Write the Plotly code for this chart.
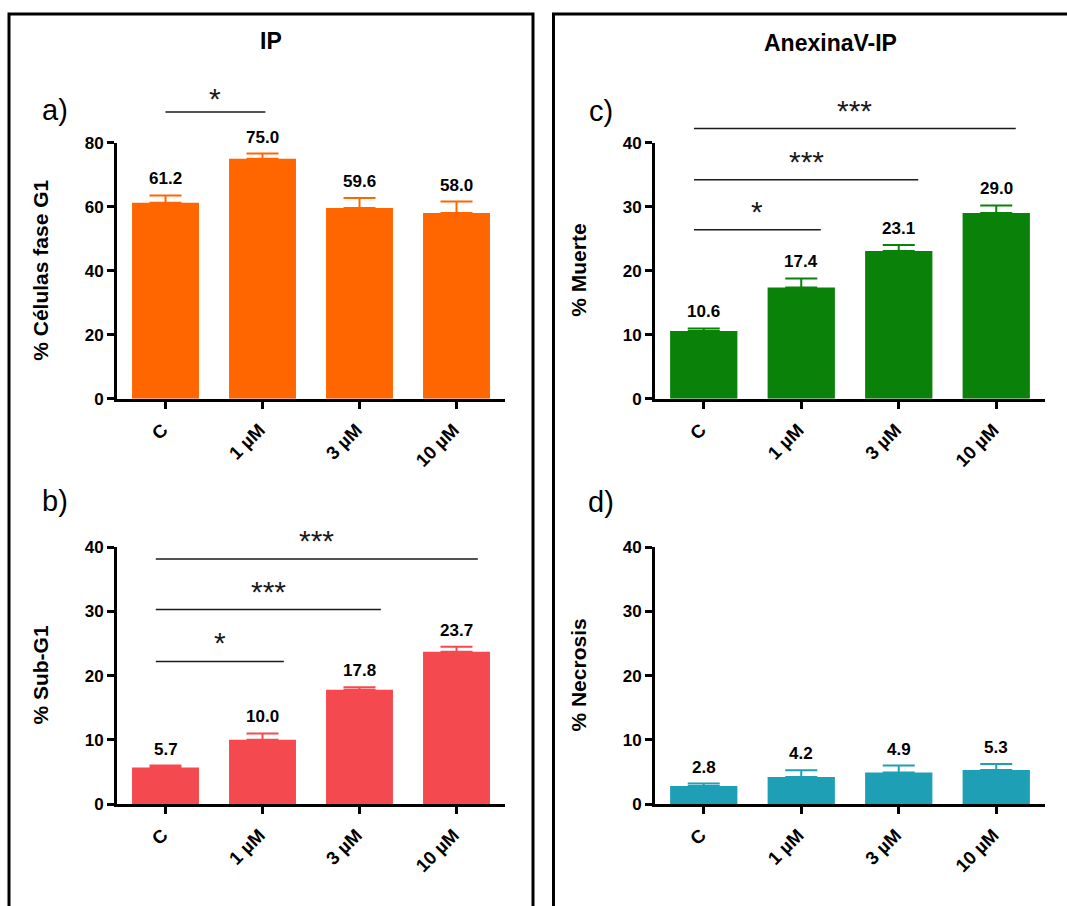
import plotly.graph_objects as go

W, H = 1067, 906

categories = ["C", "1 µM", "3 µM", "10 µM"]

# a) IP: % cells in G1 phase
g1_values = [61.2, 75.0, 59.6, 58.0]
g1_errors = [2.3, 1.6, 3.1, 3.6]

# b) IP: % Sub-G1
subg1_values = [5.7, 10.0, 17.8, 23.7]
subg1_errors = [0.3, 1.0, 0.4, 0.8]

# c) AnexinaV-IP: % death
death_values = [10.6, 17.4, 23.1, 29.0]
death_errors = [0.4, 1.4, 0.9, 1.2]

# d) AnexinaV-IP: % necrosis
necrosis_values = [2.8, 4.2, 4.9, 5.3]
necrosis_errors = [0.4, 1.05, 1.1, 0.95]

# significance brackets: (from index, to index, label)
g1_signif = [(0, 1, "*")]
subg1_signif = [(0, 1, "*"), (0, 2, "***"), (0, 3, "***")]
death_signif = [(0, 1, "*"), (0, 2, "***"), (0, 3, "***")]

FONT = "Liberation Sans, Arial, Helvetica, sans-serif"


def px_x(p):
    return p / W


def px_y(p):
    return 1 - p / H


panels = [
    dict(ax="", values=g1_values, errors=g1_errors, color="#FF6600", ymax=80, dtick=20,
         ytitle="% Células fase G1", xd=(117, 505), yd=(136.5, 398.2),
         signif=g1_signif, levels=[89.6], span=(0.0, 0.03), star_shift=-5),
    dict(ax="2", values=subg1_values, errors=subg1_errors, color="#F44A4F", ymax=40, dtick=10,
         ytitle="% Sub-G1", xd=(117, 505), yd=(549.6, 812.1),
         signif=subg1_signif, levels=[22.2, 30.27, 38.15], span=(-0.1, 0.22), star_shift=0),
    dict(ax="3", values=death_values, errors=death_errors, color="#0A820A", ymax=40, dtick=10,
         ytitle="% Muerte", xd=(655, 1045), yd=(136.5, 398.2),
         signif=death_signif, levels=[26.4, 34.2, 42.2], span=(-0.1, 0.2), star_shift=0),
    dict(ax="4", values=necrosis_values, errors=necrosis_errors, color="#1E9FB6", ymax=40, dtick=10,
         ytitle="% Necrosis", xd=(655, 1045), yd=(549.6, 812.1),
         signif=[], levels=[], span=(0, 0), star_shift=0),
]

fig = go.Figure()
annotations = []
shapes = []

for p in panels:
    xa, ya = "x" + p["ax"], "y" + p["ax"]
    fig.add_trace(go.Bar(
        x=categories, y=p["values"], xaxis=xa, yaxis=ya,
        width=0.69, marker=dict(color=p["color"], line=dict(width=0)),
        error_y=dict(type="data", symmetric=False, array=p["errors"],
                     arrayminus=[0] * len(p["errors"]),
                     color=p["color"], thickness=2, width=16),
        showlegend=False, hoverinfo="skip",
    ))

    axis_common = dict(showline=True, linewidth=3, linecolor="black",
                       ticks="outside", ticklen=7, tickwidth=3, tickcolor="black",
                       showgrid=False, zeroline=False)
    fig.update_layout({
        "xaxis" + p["ax"]: dict(
            domain=[px_x(p["xd"][0]), px_x(p["xd"][1])], anchor=ya,
            type="category", range=[-0.5, 3.5], tickangle=-45,
            ticklabelstandoff=3, ticklabelshift=-3,
            tickfont=dict(family=FONT, size=18.5, color="black", weight="bold"),
            **axis_common),
        "yaxis" + p["ax"]: dict(
            domain=[px_y(p["yd"][1]), px_y(p["yd"][0])], anchor=xa,
            range=[0, p["ymax"]], dtick=p["dtick"], tick0=0,
            tickfont=dict(family=FONT, size=17, color="black", weight="bold"),
            **axis_common),
    })

    # value labels above the error bars
    for i, (v, e) in enumerate(zip(p["values"], p["errors"])):
        annotations.append(dict(
            x=i, y=v + e, xref=xa, yref=ya, text=f"{v:.1f}", showarrow=False,
            yanchor="bottom", yshift=5,
            font=dict(family=FONT, size=17, color="black", weight="bold")))

    # y-axis title
    annotations.append(dict(
        x=0, y=0.5, xref=xa + " domain", yref=ya + " domain", xshift=-76,
        text=p["ytitle"], textangle=-90, showarrow=False,
        xanchor="center", yanchor="middle",
        font=dict(family=FONT, size=21, color="black", weight="bold")))

    # significance brackets (placed in axis-domain units so they may sit above the axis top)
    for (i, j, lab), lvl in zip(p["signif"], p["levels"]):
        x0, x1 = i + p["span"][0], j + p["span"][1]
        frac = lvl / p["ymax"]
        shapes.append(dict(type="line", xref=xa, yref=ya + " domain",
                           x0=x0, x1=x1, y0=frac, y1=frac,
                           line=dict(color="#1a1a1a", width=1.5)))
        annotations.append(dict(
            x=(x0 + x1) / 2, y=frac, xref=xa, yref=ya + " domain", text=lab,
            showarrow=False, yanchor="bottom", yshift=p["star_shift"],
            font=dict(family=FONT, size=30, color="#1a1a1a")))

# panel titles
annotations.append(dict(x=px_x(271), y=px_y(33), xref="paper", yref="paper", text="IP",
                        showarrow=False, xanchor="center", yanchor="middle",
                        font=dict(family=FONT, size=23, color="black", weight="bold")))
annotations.append(dict(x=px_x(830), y=px_y(35), xref="paper", yref="paper", text="AnexinaV-IP",
                        showarrow=False, xanchor="center", yanchor="middle",
                        font=dict(family=FONT, size=23, color="black", weight="bold")))

# panel letters
for lab, cx, cy in [("a)", 55, 103), ("b)", 55, 503), ("c)", 601, 104), ("d)", 601, 504)]:
    annotations.append(dict(x=px_x(cx), y=px_y(cy), xref="paper", yref="paper", text=lab,
                            showarrow=False, xanchor="center", yanchor="middle",
                            font=dict(family=FONT, size=29, color="black")))

# frames around the two groups of panels
shapes.append(dict(type="rect", xref="paper", yref="paper",
                   x0=px_x(9), x1=px_x(533), y0=-0.05, y1=px_y(5),
                   line=dict(color="black", width=3)))
shapes.append(dict(type="rect", xref="paper", yref="paper",
                   x0=px_x(553.5), x1=1.05, y0=-0.05, y1=px_y(5),
                   line=dict(color="black", width=3)))

fig.update_layout(
    width=W, height=H, margin=dict(l=0, r=0, t=0, b=0),
    paper_bgcolor="white", plot_bgcolor="white",
    bargap=0.31, annotations=annotations, shapes=shapes,
    font=dict(family=FONT, color="black"),
)

fig.write_html("out.html")
